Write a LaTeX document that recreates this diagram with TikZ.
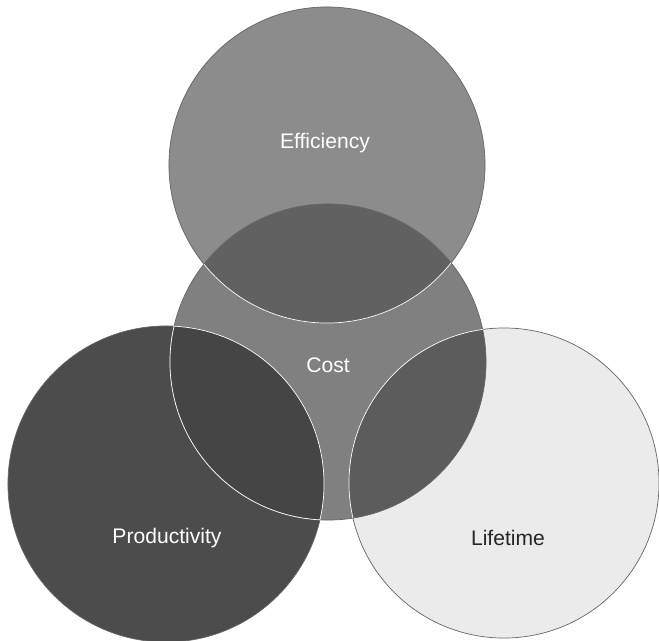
\documentclass[tikz,border=0pt]{standalone}
\usepackage{fontspec}
\setmainfont{Liberation Sans}
\usetikzlibrary{positioning}
\definecolor{effgray}{gray}{0.55}
\definecolor{costgray}{gray}{0.50}
\definecolor{prodgray}{gray}{0.30}
\definecolor{lifegray}{gray}{0.92}
\definecolor{effcost}{gray}{0.38}
\definecolor{prodcost}{gray}{0.27}
\definecolor{lifecost}{gray}{0.36}
\definecolor{rimgray}{gray}{0.40}

\begin{document}
\begin{tikzpicture}[x=0.025cm,y=-0.025cm,
    venn/.style={circle, inner sep=0pt, minimum size=7.9cm},
    rim/.style={draw=rimgray, line width=0.5pt},
    seam/.style={draw=white, line width=0.5pt},
    tag/.style={font=\fontsize{15}{18}\selectfont, text=white}]
    \useasboundingbox (0,0) rectangle (659,640);

    \node[venn, fill=effgray] (eff) at (327,165) {};
    \node[venn, fill=costgray] (cost) at (328,362) {};
    \node[venn, fill=prodgray] (prod) at (166,484) {};
    \node[venn, fill=lifegray, minimum size=7.75cm] (life) at (504,483) {};

    % overlaps with cost
    \begin{scope}
        \clip (cost.center) circle (3.95cm);
        \fill[effcost] (eff.center) circle (3.95cm);
        \fill[prodcost] (prod.center) circle (3.95cm);
        \fill[lifecost] (life.center) circle (3.875cm);
    \end{scope}

    % outlines
    \path[rim] (eff.center) circle (3.95cm);
    \path[rim] (cost.center) circle (3.95cm);
    \path[rim] (prod.center) circle (3.95cm);
    \path[rim] (life.center) circle (3.875cm);
    \begin{scope}
        \clip (cost.center) circle (3.95cm);
        \path[seam] (eff.center) circle (3.95cm);
        \path[seam] (prod.center) circle (3.95cm);
        \path[seam] (life.center) circle (3.875cm);
    \end{scope}
    \begin{scope}
        \clip (prod.center) circle (3.95cm);
        \path[seam] (cost.center) circle (3.95cm);
    \end{scope}

    \node[tag] (efftag) at (325,143) {Efficiency};
    \node[tag] (costtag) at (328,365) {Cost};
    \node[tag] (prodtag) at (167,538) {Productivity};
    \node[tag, text=black!85] (lifetag) at (508,538) {Lifetime};
\end{tikzpicture}
\end{document}
